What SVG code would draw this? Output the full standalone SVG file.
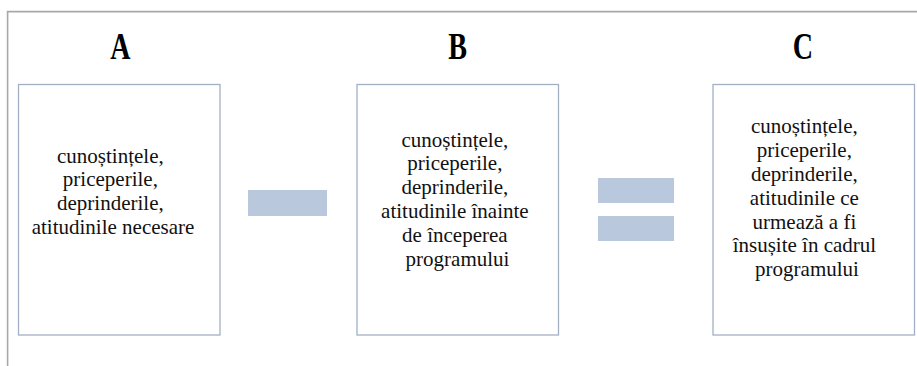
<svg xmlns="http://www.w3.org/2000/svg" width="917" height="366" viewBox="0 0 917 366">
  <style>
    .frame { fill: none; stroke: #a8a8a8; stroke-width: 1.6; }
    .box { fill: #ffffff; stroke: #a3b0c4; stroke-width: 1.3; }
    .bar { fill: #b9c8dc; }
    .head { font-weight: bold; font-size: 37px; fill: #000; text-anchor: middle; }
    .body { font-size: 21px; fill: #111; text-anchor: middle; }
  </style>
  <rect width="917" height="366" fill="#ffffff"/>
  <!-- outer frame: top and left edges -->
  <path class="frame" d="M7.6 366 V11.6 H917"/>

  <g font-family="Liberation Serif, Tinos, DejaVu Serif, serif">
    <g id="label-A">
      <text class="head" transform="translate(120.5,59) scale(0.76,1)">A</text>
    </g>
    <g id="label-B">
      <text class="head" transform="translate(457.5,59) scale(0.76,1)">B</text>
    </g>
    <g id="label-C">
      <text class="head" transform="translate(803,59) scale(0.76,1)">C</text>
    </g>

    <g id="node-A">
      <rect class="box" x="18.5" y="84.5" width="201.5" height="250.5"/>
      <text class="body">
        <tspan x="113" y="162.5">cunoștințele,</tspan>
        <tspan x="113" y="186">priceperile,</tspan>
        <tspan x="113" y="210">deprinderile,</tspan>
        <tspan x="113" y="233.5">atitudinile necesare</tspan>
      </text>
    </g>

    <g id="node-B">
      <rect class="box" x="357" y="84.5" width="201.5" height="250.5"/>
      <text class="body">
        <tspan x="457.5" y="146.5">cunoștințele,</tspan>
        <tspan x="457.5" y="170.3">priceperile,</tspan>
        <tspan x="457.5" y="194.1">deprinderile,</tspan>
        <tspan x="457.5" y="217.9">atitudinile înainte</tspan>
        <tspan x="457.5" y="241.7">de începerea</tspan>
        <tspan x="457.5" y="265.5">programului</tspan>
      </text>
    </g>

    <g id="node-C">
      <rect class="box" x="713" y="84.5" width="201.5" height="250.5"/>
      <text class="body">
        <tspan x="807" y="133.3">cunoștințele,</tspan>
        <tspan x="807" y="157.1">priceperile,</tspan>
        <tspan x="807" y="180.9">deprinderile,</tspan>
        <tspan x="807" y="204.7">atitudinile ce</tspan>
        <tspan x="807" y="228.5">urmează a fi</tspan>
        <tspan x="807" y="252.3">însușite  în cadrul</tspan>
        <tspan x="807" y="276.1">programului</tspan>
      </text>
    </g>
  </g>

  <g id="connectors">
    <!-- minus sign between A and B -->
    <rect class="bar" x="248" y="190" width="79" height="26"/>
    <!-- equals sign between B and C -->
    <rect class="bar" x="598" y="178" width="76" height="25"/>
    <rect class="bar" x="598" y="216" width="76" height="25"/>
  </g>
</svg>
